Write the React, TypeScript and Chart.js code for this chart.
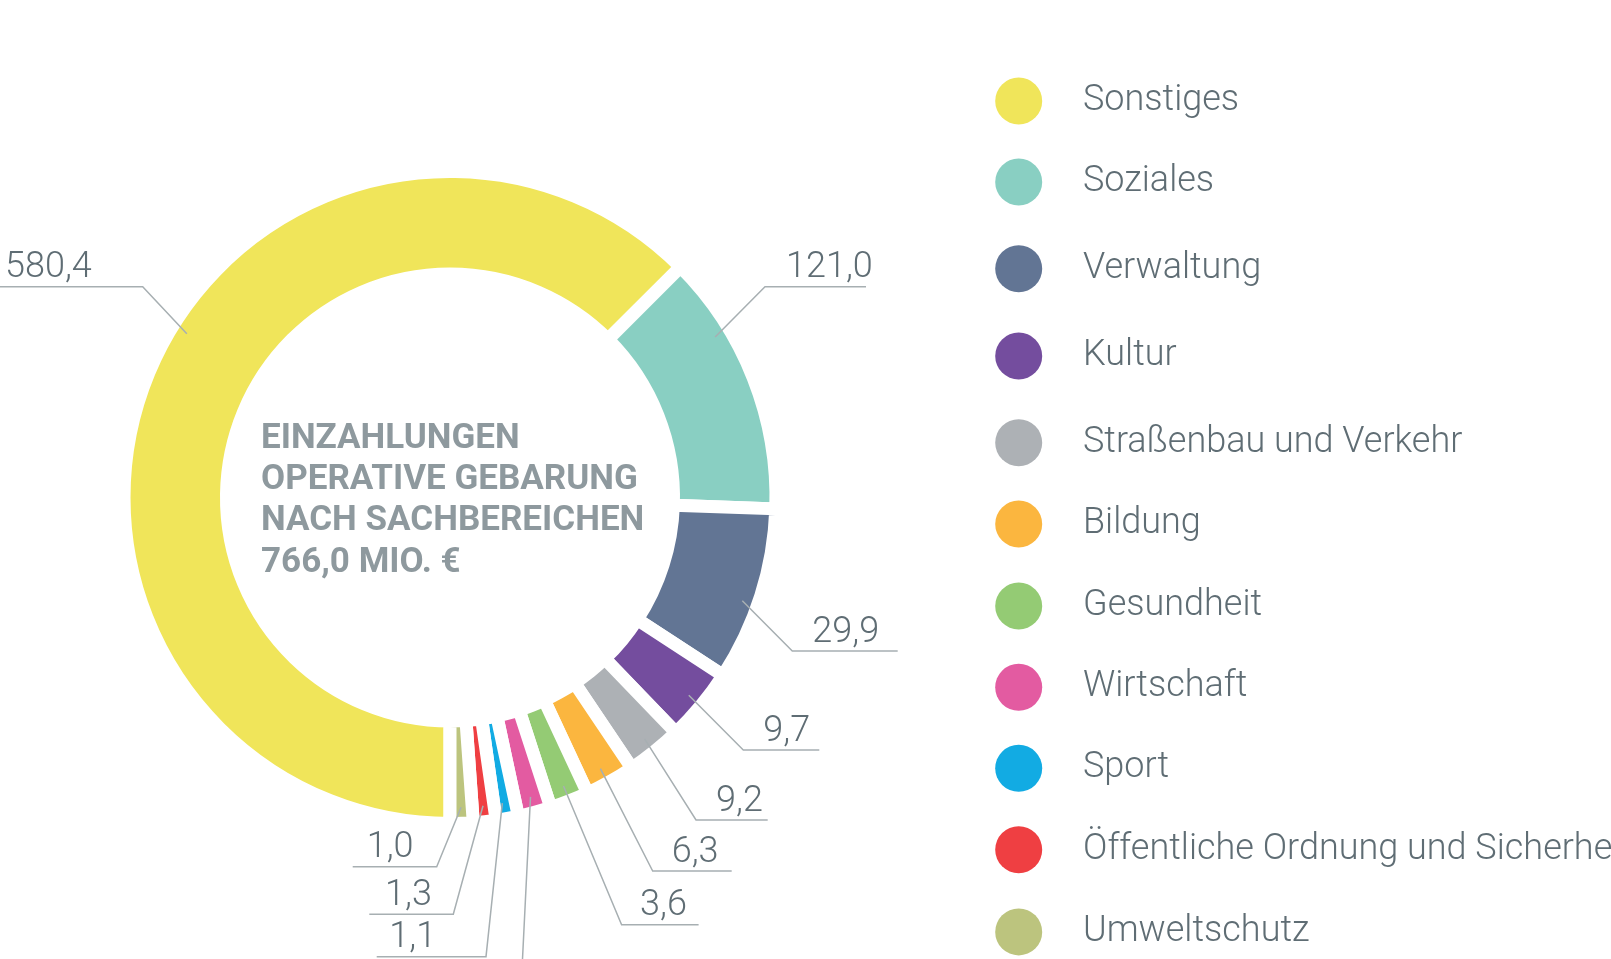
import { useEffect, useRef } from "react";
import { Chart, registerables } from "chart.js";

Chart.register(...registerables);

// ---- data ----
const categories = [
  "Sonstiges",
  "Soziales",
  "Verwaltung",
  "Kultur",
  "Straßenbau und Verkehr",
  "Bildung",
  "Gesundheit",
  "Wirtschaft",
  "Sport",
  "Öffentliche Ordnung und Sicherheit",
  "Umweltschutz",
];
// Einzahlungen in Mio. €
const values = [580.4, 121.0, 29.9, 9.7, 9.2, 6.3, 3.6, 2.5, 1.1, 1.3, 1.0];
// slice sizes as drawn in the reference (degrees, small areas enlarged)
const sliceAngles = [225, 47, 31.1, 13.05, 9.95, 8.95, 6.95, 5.9, 3.97, 4.03, 4.1];
const colors = [
  "#f0e55a",
  "#89cfc2",
  "#627594",
  "#744d9e",
  "#adb1b5",
  "#fbb63f",
  "#94cb74",
  "#e35ba1",
  "#12abe3",
  "#ef3f42",
  "#bcc47e",
];
const titleLines = ["EINZAHLUNGEN", "OPERATIVE GEBARUNG", "NACH SACHBEREICHEN", "766,0 MIO. €"];

// ---- layout (labels, legend) ----
const leaderLayout = [
  { shift: 9.4, ex: 142.7, ey: 286.7, endX: 0, textX: 5 },
  { shift: -9.7, ex: 765, ey: 286.7, endX: 866, textX: 786 },
  { shift: 1.9, ex: 792.3, ey: 651, endX: 897.7, textX: 812.3 },
  { shift: 0, ex: 743.3, ey: 750, endX: 819.3, textX: 763.3 },
  { shift: 0, ex: 696, ey: 820, endX: 767.7, textX: 716 },
  { shift: 0.4, ex: 652.7, ey: 871, endX: 731.7, textX: 671.7 },
  { shift: 0, ex: 621.6, ey: 924.7, endX: 698.6, textX: 640 },
  { shift: 0, ex: 519, ey: 1030, endX: 600, textX: 541 },
  { shift: 0.4, ex: 486, ey: 956.7, endX: 376.7, textX: 389.3 },
  { shift: 0, ex: 453.3, ey: 914.3, endX: 369.3, textX: 385 },
  { shift: 0, ex: 436.7, ey: 866.7, endX: 352.7, textX: 366.7 },
];
const legendY = [101, 182, 268.7, 356, 442.7, 524, 606, 687.3, 768.3, 849.7, 931.9];

const fmt = (v: number) => v.toFixed(1).replace(".", ",");

const TEXT = "#5f6d74";
const LINE = "#a7afb2";
const TITLE = "#8e999e";

const overlayPlugin = {
  id: "overlay",
  afterDraw(chart: any) {
    const ctx: CanvasRenderingContext2D = chart.ctx;
    const meta = chart.getDatasetMeta(0);
    ctx.save();

    // centre title
    ctx.fillStyle = TITLE;
    ctx.font = "bold 35px Roboto, 'Liberation Sans', sans-serif";
    ctx.textAlign = "left";
    ctx.textBaseline = "alphabetic";
    titleLines.forEach((t, i) => ctx.fillText(t, 261, 447.5 + i * 41.4));

    // leader lines + value labels
    ctx.font = "300 36px Roboto, 'Liberation Sans', sans-serif";
    meta.data.forEach((arc: any, i: number) => {
      const L = leaderLayout[i];
      const { x, y, startAngle, endAngle } = arc.getProps(["x", "y", "startAngle", "endAngle"], true);
      const a = (startAngle + endAngle) / 2 + (L.shift * Math.PI) / 180;
      const r = 310;
      const ax = x + Math.cos(a) * r;
      const ay = y + Math.sin(a) * r;
      ctx.strokeStyle = LINE;
      ctx.lineWidth = 1.5;
      ctx.beginPath();
      ctx.moveTo(ax, ay);
      ctx.lineTo(L.ex, L.ey);
      ctx.lineTo(L.endX, L.ey);
      ctx.stroke();
      ctx.fillStyle = TEXT;
      ctx.fillText(fmt(values[i]), L.textX, L.ey - 9.5);
    });

    // legend
    const lx = 1018.7;
    const tx = 1083;
    categories.forEach((c, i) => {
      const cy = legendY[i];
      ctx.fillStyle = colors[i];
      ctx.beginPath();
      ctx.arc(lx, cy, 23.5, 0, Math.PI * 2);
      ctx.fill();
      ctx.fillStyle = TEXT;
      ctx.fillText(c, tx, cy + 9);
    });

    ctx.restore();
  },
};

export default function App() {
  const ref = useRef<HTMLCanvasElement>(null);
  useEffect(() => {
    document.body.style.margin = "0";
    const canvas = ref.current!;
    const chart = new Chart(canvas, {
      type: "doughnut",
      data: {
        labels: categories,
        datasets: [
          {
            data: sliceAngles,
            backgroundColor: colors,
            borderColor: "#ffffff",
            borderWidth: 13,
            borderAlign: "center",
            hoverOffset: 0,
          } as any,
        ],
      },
      options: {
        responsive: false,
        animation: false,
        rotation: 180,
        circumference: 360,
        radius: 326,
        cutout: "68.56%",
        events: [],
        layout: { padding: { left: 110, right: 821, top: 157.5, bottom: 121.5 } },
        plugins: { legend: { display: false }, tooltip: { enabled: false } },
      } as any,
      plugins: [overlayPlugin],
    });
    return () => chart.destroy();
  }, []);
  return <canvas ref={ref} width={1611} height={959} style={{ display: "block" }} />;
}
